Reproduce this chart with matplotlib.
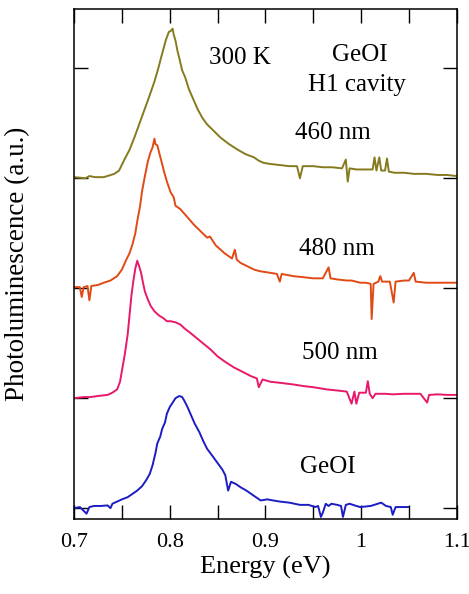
import numpy as np
import matplotlib
matplotlib.use("Agg")
import matplotlib.pyplot as plt
from matplotlib.ticker import MultipleLocator

plt.rcParams['font.family'] = ['Liberation Serif', 'DejaVu Serif']

# spectra: energy (eV) and PL intensity (a.u., one unit = stack spacing)
e_460 = [0.700, 0.712, 0.716, 0.722, 0.731, 0.742, 0.747, 0.752, 0.758, 0.763, 0.768, 0.773,
         0.778, 0.784, 0.788, 0.791, 0.796, 0.799, 0.801, 0.803, 0.804, 0.806, 0.808, 0.810,
         0.813, 0.816, 0.820, 0.824, 0.829, 0.834, 0.839, 0.846, 0.853, 0.862, 0.871, 0.879,
         0.888, 0.893, 0.898, 0.905, 0.915, 0.925, 0.933, 0.936, 0.939, 0.950, 0.960, 0.970,
         0.980, 0.984, 0.986, 0.988, 0.995, 1.005, 1.012, 1.014, 1.016, 1.019, 1.021, 1.025,
         1.027, 1.029, 1.035, 1.045, 1.055, 1.068, 1.080, 1.090, 1.100]
pl_460 = [0.01, 0.00, 0.02, 0.01, 0.01, 0.04, 0.07, 0.16, 0.26, 0.37, 0.49, 0.61,
          0.73, 0.88, 1.00, 1.10, 1.26, 1.33, 1.34, 1.36, 1.31, 1.25, 1.16, 1.09,
          0.98, 0.92, 0.81, 0.73, 0.63, 0.55, 0.49, 0.43, 0.37, 0.31, 0.26, 0.22,
          0.19, 0.16, 0.14, 0.13, 0.12, 0.11, 0.11, 0.00, 0.11, 0.11, 0.10, 0.10,
          0.09, 0.17, -0.03, 0.09, 0.08, 0.08, 0.08, 0.19, 0.07, 0.19, 0.07, 0.07,
          0.18, 0.06, 0.05, 0.05, 0.04, 0.04, 0.03, 0.03, 0.02]

e_480 = [0.700, 0.706, 0.708, 0.710, 0.714, 0.716, 0.718, 0.725, 0.731, 0.738, 0.745, 0.750,
         0.754, 0.758, 0.761, 0.764, 0.766, 0.769, 0.771, 0.774, 0.777, 0.780, 0.782, 0.784,
         0.785, 0.787, 0.789, 0.792, 0.794, 0.797, 0.801, 0.804, 0.806, 0.811, 0.818, 0.825,
         0.832, 0.839, 0.842, 0.848, 0.857, 0.865, 0.868, 0.870, 0.874, 0.881, 0.888, 0.894,
         0.905, 0.912, 0.915, 0.917, 0.929, 0.940, 0.950, 0.960, 0.966, 0.968, 0.975, 0.985,
         0.990, 0.999, 1.005, 1.010, 1.011, 1.013, 1.018, 1.020, 1.022, 1.030, 1.034, 1.036,
         1.045, 1.050, 1.055, 1.057, 1.068, 1.080, 1.090, 1.100]
pl_480 = [0.01, 0.01, -0.08, 0.01, 0.02, -0.11, 0.02, 0.03, 0.05, 0.07, 0.11, 0.17,
          0.25, 0.32, 0.40, 0.50, 0.61, 0.75, 0.88, 1.02, 1.15, 1.24, 1.28, 1.36,
          1.31, 1.30, 1.23, 1.13, 1.06, 0.97, 0.87, 0.83, 0.75, 0.72, 0.65, 0.58,
          0.52, 0.46, 0.47, 0.39, 0.32, 0.27, 0.35, 0.26, 0.23, 0.20, 0.17, 0.155,
          0.14, 0.13, 0.06, 0.13, 0.11, 0.10, 0.09, 0.09, 0.19, 0.09, 0.08, 0.07,
          0.07, 0.05, 0.05, 0.04, -0.28, 0.04, 0.06, 0.11, 0.06, 0.06, -0.13, 0.06,
          0.07, 0.07, 0.14, 0.06, 0.05, 0.05, 0.05, 0.05]

e_500 = [0.700, 0.710, 0.717, 0.725, 0.735, 0.740, 0.745, 0.748, 0.750, 0.753, 0.756, 0.758,
         0.760, 0.762, 0.764, 0.766, 0.768, 0.770, 0.772, 0.774, 0.777, 0.780, 0.784, 0.789,
         0.793, 0.797, 0.801, 0.806, 0.811, 0.816, 0.822, 0.829, 0.836, 0.843, 0.850, 0.858,
         0.867, 0.876, 0.885, 0.891, 0.893, 0.897, 0.905, 0.915, 0.929, 0.940, 0.950, 0.964,
         0.975, 0.985, 0.990, 0.993, 0.995, 0.998, 1.005, 1.007, 1.009, 1.012, 1.015, 1.025,
         1.033, 1.045, 1.055, 1.062, 1.069, 1.071, 1.080, 1.090, 1.100]
pl_500 = [0.00, 0.01, 0.01, 0.02, 0.03, 0.05, 0.08, 0.15, 0.25, 0.40, 0.58, 0.76,
          0.94, 1.07, 1.18, 1.25, 1.20, 1.14, 1.05, 0.97, 0.90, 0.84, 0.79, 0.75,
          0.73, 0.70, 0.70, 0.69, 0.67, 0.63, 0.59, 0.54, 0.49, 0.44, 0.38, 0.33,
          0.28, 0.24, 0.20, 0.18, 0.10, 0.17, 0.15, 0.14, 0.125, 0.11, 0.10, 0.08,
          0.07, 0.06, -0.05, 0.06, -0.05, 0.05, 0.05, 0.155, 0.04, 0.00, 0.04, 0.04,
          0.035, 0.04, 0.04, 0.04, -0.04, 0.03, 0.035, 0.03, 0.03]

e_geoi = [0.700, 0.706, 0.713, 0.716, 0.721, 0.728, 0.735, 0.738, 0.740, 0.745, 0.750, 0.756,
          0.761, 0.766, 0.771, 0.775, 0.779, 0.782, 0.785, 0.787, 0.790, 0.792, 0.795, 0.797,
          0.800, 0.803, 0.806, 0.810, 0.813, 0.815, 0.818, 0.822, 0.826, 0.831, 0.835, 0.839,
          0.845, 0.850, 0.855, 0.858, 0.861, 0.864, 0.869, 0.874, 0.880, 0.885, 0.890, 0.895,
          0.902, 0.908, 0.915, 0.925, 0.936, 0.945, 0.952, 0.955, 0.958, 0.960, 0.963, 0.966,
          0.969, 0.975, 0.979, 0.981, 0.984, 0.988, 0.995, 0.999, 1.010, 1.021, 1.026, 1.031,
          1.033, 1.036, 1.040, 1.049]
pl_geoi = [0.00, 0.01, -0.05, 0.01, 0.02, 0.02, 0.025, 0.00, 0.04, 0.06, 0.08, 0.10,
           0.13, 0.16, 0.20, 0.25, 0.31, 0.39, 0.50, 0.59, 0.65, 0.72, 0.78, 0.86,
           0.92, 0.96, 1.00, 1.02, 1.01, 0.98, 0.93, 0.85, 0.77, 0.69, 0.61, 0.54,
           0.47, 0.41, 0.35, 0.30, 0.16, 0.24, 0.22, 0.19, 0.16, 0.13, 0.10, 0.07,
           0.08, 0.07, 0.06, 0.05, 0.03, 0.03, 0.01, 0.02, -0.08, -0.04, 0.04, 0.02,
           0.04, 0.03, 0.02, -0.08, 0.03, 0.04, 0.02, 0.01, 0.02, 0.05, 0.02, 0.01,
           -0.06, 0.01, 0.01, 0.01]

labels = ['460 nm', '480 nm', '500 nm', 'GeOI']
offsets = [3, 2, 1, 0]
colors = ['#867A1E', '#E04A14', '#E8196B', '#1C1CC4']

fig = plt.figure(figsize=(4.69, 5.94), dpi=100)
ax = fig.add_axes([0.158, 0.126, 0.816, 0.859])

spectra = [(e_460, pl_460), (e_480, pl_480), (e_500, pl_500), (e_geoi, pl_geoi)]
for (e, pl), off, c in zip(spectra, offsets, colors):
    ax.plot(e, np.array(pl) + off, color=c, lw=1.4)

# labels next to each trace
fs = 18
ax.text(0.970, 3.41, labels[0], fontsize=fs, ha='center', va='center')
ax.text(0.975, 2.36, labels[1], fontsize=fs, ha='center', va='center')
ax.text(0.978, 1.41, labels[2], fontsize=fs, ha='center', va='center')
ax.text(0.965, 0.37, labels[3], fontsize=fs, ha='center', va='center')
ax.text(0.873, 4.09, '300 K', fontsize=fs, ha='center', va='center')
ax.text(0.999, 4.12, 'GeOI', fontsize=fs, ha='center', va='center')
ax.text(0.996, 3.85, 'H1 cavity', fontsize=fs, ha='center', va='center')

ax.set_xlim(0.7, 1.1)
ax.set_ylim(-0.1, 4.54)
ax.xaxis.set_minor_locator(MultipleLocator(0.05))
ax.set_xticks([0.7, 0.8, 0.9, 1.0, 1.1])
ax.set_xticklabels(['0.7', '0.8', '0.9', '1', '1.1'])
ax.set_yticks([0, 1, 2, 3, 4])
ax.set_yticklabels([])
ax.tick_params(which='both', direction='in', top=True, right=True,
               length=10, width=1.0, labelsize=16, pad=10)
for s in ax.spines.values():
    s.set_linewidth(1.1)

ax.set_xlabel('Energy (eV)', fontsize=19, labelpad=3)
ax.set_ylabel('Photoluminescence (a.u.)', fontsize=19.5, labelpad=22)

fig.savefig('out.png', dpi=100)
